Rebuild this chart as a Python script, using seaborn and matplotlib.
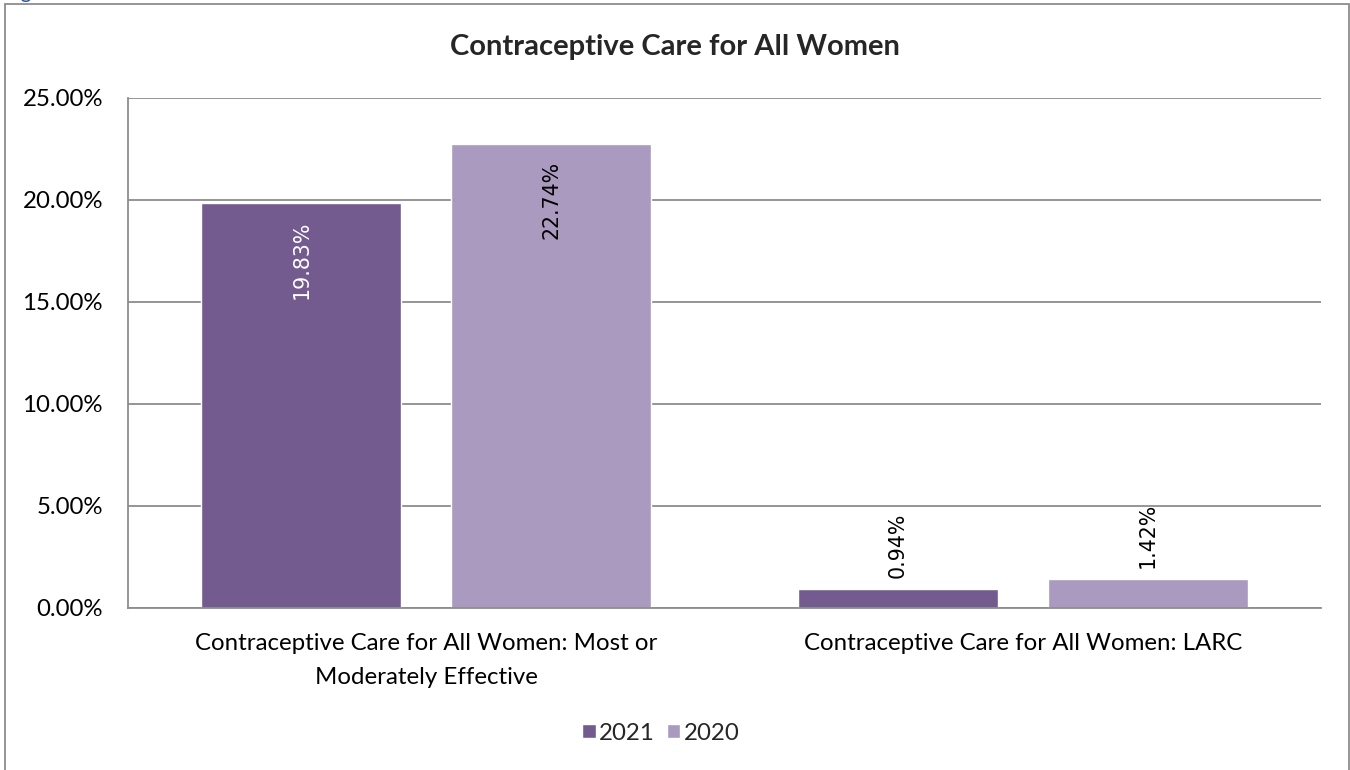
import pandas as pd
import matplotlib
matplotlib.use("Agg")
import matplotlib.pyplot as plt
import seaborn as sns
from matplotlib.patches import Rectangle

# data (values in %)
categories = ["Contraceptive Care for All Women: Most or\nModerately Effective",
              "Contraceptive Care for All Women: LARC"]
years = ["2021", "2020"]
values_2021 = [19.83, 0.94]
values_2020 = [22.74, 1.42]
y_ticks = [0, 5, 10, 15, 20, 25]

colors = {"2021": "#735A8F", "2020": "#AA9ABF"}

df = pd.DataFrame({
    "category": categories * 2,
    "year": ["2021"] * len(categories) + ["2020"] * len(categories),
    "value": values_2021 + values_2020,
})

sns.set_style("white")
plt.rcParams["font.family"] = ["Lato", "DejaVu Sans"]

fig = plt.figure(figsize=(13.5, 7.7), dpi=100)
ax = fig.add_axes([128 / 1350, 1 - 608 / 770, (1321 - 128) / 1350, (608 - 98) / 770])

sns.barplot(data=df, x="category", y="value", hue="year", hue_order=years,
            order=categories, palette=colors, width=0.838, gap=0.2,
            saturation=1, ax=ax, legend=True)

ax.set_ylim(0, 25)
ax.set_yticks(y_ticks)
ax.set_yticklabels([f"{t:.2f}%" for t in y_ticks])
ax.set_xlabel("")
ax.set_ylabel("")
ax.grid(axis="y", color="#8C8C8C", linewidth=1.3)
ax.set_axisbelow(True)
for side in ["top", "right"]:
    ax.spines[side].set_visible(False)
for side in ["left", "bottom"]:
    ax.spines[side].set_color("#8C8C8C")
    ax.spines[side].set_linewidth(1.3)
ax.tick_params(axis="y", length=0, pad=18, labelsize=17.3, labelcolor="black")
ax.tick_params(axis="x", length=0, pad=18, labelsize=17.3, labelcolor="black")
for lbl in ax.get_xticklabels():
    lbl.set_linespacing(1.75)

# data labels, rotated like the original
for cont, yr in zip(ax.containers, years):
    for bar in cont:
        v = bar.get_height()
        x = bar.get_x() + bar.get_width() / 2
        if v > 5:
            ax.annotate(f"{v:.2f}%", (x, v), xytext=(0, -12), textcoords="offset points",
                        rotation=90, ha="center", va="top", fontsize=14.8,
                        family="DejaVu Sans",
                        color="white" if yr == "2021" else "black")
        else:
            ax.annotate(f"{v:.2f}%", (x, v), xytext=(0, 8), textcoords="offset points",
                        rotation=90, ha="center", va="bottom", fontsize=14.8,
                        family="DejaVu Sans", color="black")

handles, labels = ax.get_legend_handles_labels()
ax.get_legend().remove()
fig.legend(handles, labels, loc="center", bbox_to_anchor=(661 / 1350, 1 - 733 / 770),
           ncol=2, frameon=False, fontsize=17.3, handlelength=0.55, handleheight=0.55,
           handletextpad=0.15, columnspacing=0.5)

fig.text(675 / 1350, 1 - 47 / 770, "Contraceptive Care for All Women",
         ha="center", va="center", fontsize=21, fontweight="bold")

# chart area border and the cut-off caption above it
fig.patches.append(Rectangle((5 / 1350, -0.05), 1344 / 1350, 1.05 - 4 / 770,
                             transform=fig.transFigure, fill=False,
                             edgecolor="#8C8C8C", linewidth=1.3))
fig.text(4 / 1350, 1.002, "Figure 1", va="baseline", ha="left",
         fontsize=15, color="#2F5496")

fig.savefig("out.png", dpi=100)
